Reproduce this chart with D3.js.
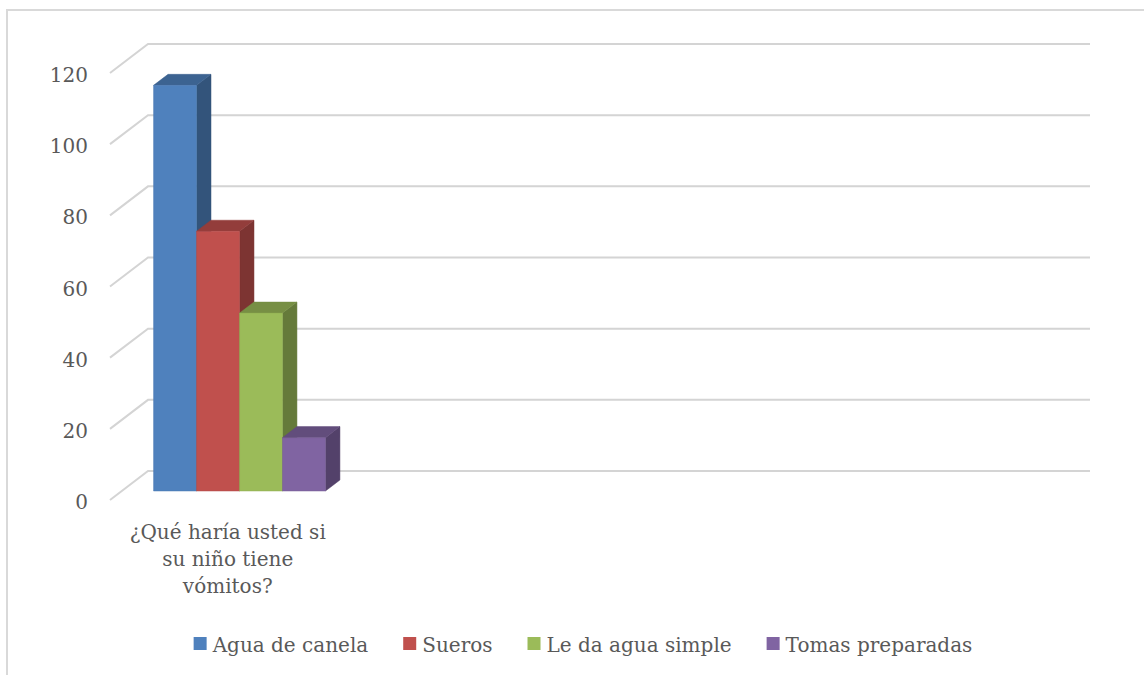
<!DOCTYPE html>
<html><head><meta charset="utf-8">
<script src="https://cdn.jsdelivr.net/npm/d3@7"></script>
<style>body{margin:0;background:#fff}svg{display:block}</style>
</head><body>
<svg id="c" width="1144" height="675"></svg>
<script>
const categories = ["¿Qué haría usted si su niño tiene vómitos?", "", "", ""];
const categoryLines = [["¿Qué haría usted si", "su niño tiene", "vómitos?"], [], [], []];
const series = ["Agua de canela", "Sueros", "Le da agua simple", "Tomas preparadas"];
const values = [114, 73, 50, 15];
const colors = ["#4F81BD", "#C0504D", "#9BBB59", "#8064A2"];
const yTicks = [0, 20, 40, 60, 80, 100, 120];

const svg = d3.select("#c");
const FONT = "'DejaVu Serif', serif";
const TXT = "#595959";

// border
svg.append("path").attr("d", "M7,675 V10 H1144").attr("fill", "none")
  .attr("stroke", "#d9d9d9").attr("stroke-width", 2);

// 3D geometry
const depth = {dx: 38, dy: -29};
const y = d3.scaleLinear().domain([0, 120]).range([500, 73]);
const x0 = d3.scaleBand().domain(d3.range(categories.length)).range([110, 1052]);
const x1 = d3.scaleBand().domain(series).range([0, x0.bandwidth()]).paddingOuter(0.74);
const P = (xf, v, t) => [xf + t * depth.dx, y(v) + t * depth.dy];

// gridlines (back wall + left wall)
const g = svg.append("g");
yTicks.forEach(v => {
  const a = P(110, v, 0), b = P(110, v, 1), c = P(1052, v, 1);
  g.append("path").attr("d", `M${a}L${b}L${c}`).attr("fill", "none")
    .attr("stroke", "#d4d4d4").attr("stroke-width", 2);
});

// y labels
svg.append("g").selectAll("text").data(yTicks).join("text")
  .attr("x", 88).attr("y", d => y(d) + 2).attr("text-anchor", "end")
  .attr("dominant-baseline", "central").attr("font-family", FONT)
  .attr("font-size", 20).attr("fill", TXT).text(d => d);

// bars
const t1 = 0.31, t2 = 0.69;
const bars = svg.append("g");
series.forEach((s, i) => {
  const v = values[i];
  const xl = x0(0) + x1(s), xr = xl + x1.bandwidth();
  const col = d3.color(colors[i]);
  const fbl = P(xl, 0, t1), fbr = P(xr, 0, t1), ftl = P(xl, v, t1), ftr = P(xr, v, t1);
  const btl = P(xl, v, t2), btr = P(xr, v, t2), bbr = P(xr, 0, t2);
  bars.append("path").attr("d", `M${ftr}L${btr}L${bbr}L${fbr}Z`)
    .attr("fill", col.darker(1.2)).attr("stroke", col.darker(1.3)).attr("stroke-width", 0.5);
  bars.append("path").attr("d", `M${ftl}L${ftr}L${btr}L${btl}Z`)
    .attr("fill", col.darker(0.75)).attr("stroke", col.darker(0.8)).attr("stroke-width", 0.5);
  bars.append("path").attr("d", `M${fbl}L${ftl}L${ftr}L${fbr}Z`)
    .attr("fill", col).attr("stroke", col.darker(0.2)).attr("stroke-width", 0.5);
});

// category label
categories.forEach((c, i) => {
  const cx = x0(i) + x0.bandwidth() / 2;
  svg.append("text").attr("text-anchor", "middle").attr("font-family", FONT)
    .attr("font-size", 20).attr("fill", TXT)
    .selectAll("tspan").data(categoryLines[i]).join("tspan")
    .attr("x", cx).attr("y", (d, j) => 539 + j * 27).text(d => d);
});

// legend
const lg = svg.append("g");
const items = series.map((s, i) => {
  const gi = lg.append("g");
  gi.append("rect").attr("width", 13).attr("height", 13).attr("y", -8).attr("fill", colors[i]);
  const t = gi.append("text").attr("x", 19).attr("y", 0).attr("dominant-baseline", "central")
    .attr("font-family", FONT).attr("font-size", 20).attr("fill", TXT).text(s);
  return {gi, w: 19 + t.node().getComputedTextLength()};
});
const gap = 35;
const total = d3.sum(items, d => d.w) + gap * (items.length - 1);
let lx = 583 - total / 2;
items.forEach(it => { it.gi.attr("transform", `translate(${lx},645)`); lx += it.w + gap; });
</script>
</body></html>
